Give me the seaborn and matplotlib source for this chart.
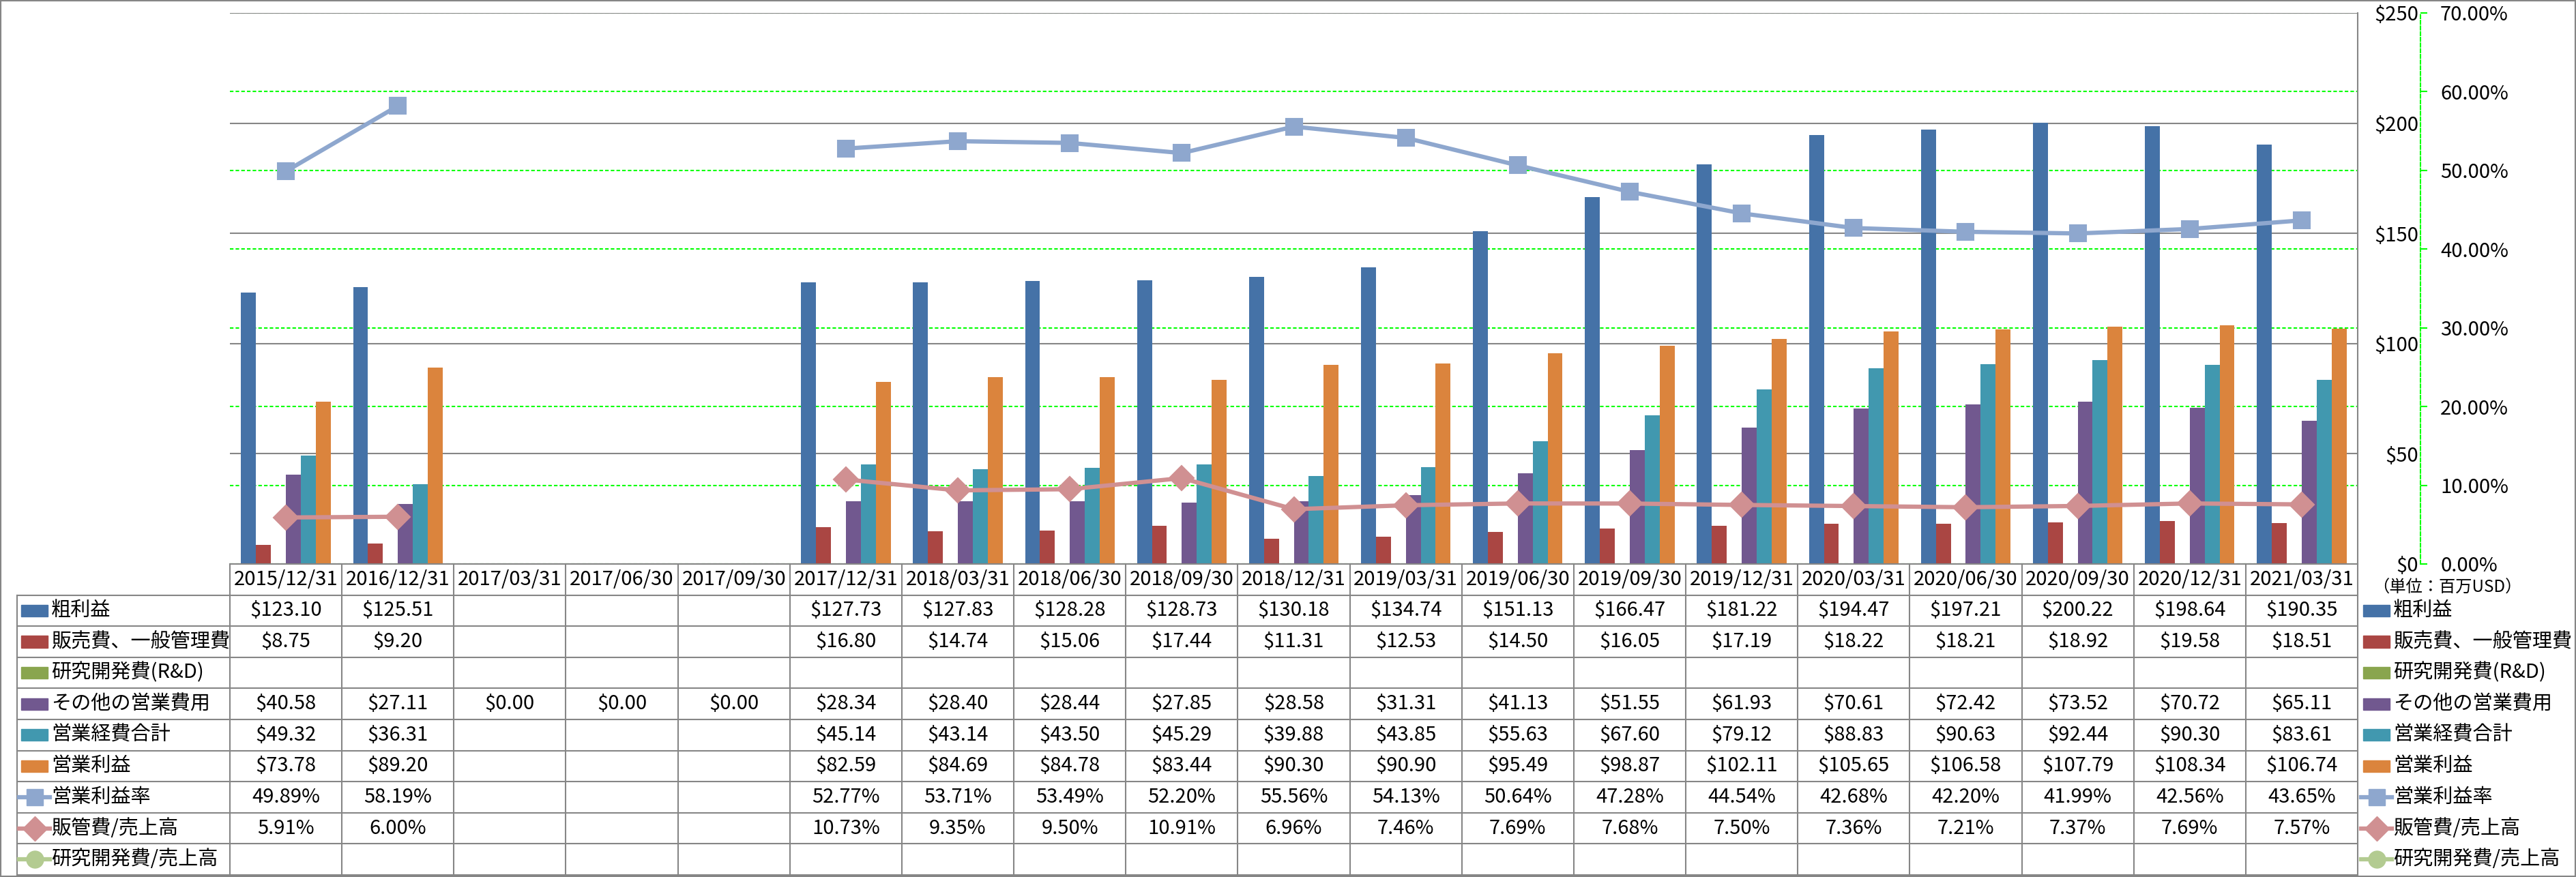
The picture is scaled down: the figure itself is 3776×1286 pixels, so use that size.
import numpy as np
import pandas as pd
import matplotlib
matplotlib.use('Agg')
import matplotlib.pyplot as plt
import matplotlib.transforms as mtransforms
from matplotlib.patches import Rectangle
from matplotlib.ticker import FixedLocator, FuncFormatter
import seaborn as sns

plt.rcParams['font.family'] = ['Noto Sans CJK JP', 'DejaVu Sans']

# ---- data (millions USD / percent) ----
dates = ['2015/12/31', '2016/12/31', '2017/03/31', '2017/06/30', '2017/09/30',
         '2017/12/31', '2018/03/31', '2018/06/30', '2018/09/30', '2018/12/31',
         '2019/03/31', '2019/06/30', '2019/09/30', '2019/12/31', '2020/03/31',
         '2020/06/30', '2020/09/30', '2020/12/31', '2021/03/31']
gross_profit = [123.10, 125.51, None, None, None, 127.73, 127.83, 128.28, 128.73, 130.18,
                134.74, 151.13, 166.47, 181.22, 194.47, 197.21, 200.22, 198.64, 190.35]
sga = [8.75, 9.20, None, None, None, 16.80, 14.74, 15.06, 17.44, 11.31,
       12.53, 14.50, 16.05, 17.19, 18.22, 18.21, 18.92, 19.58, 18.51]
rnd = [None] * 19
other_opex = [40.58, 27.11, 0.00, 0.00, 0.00, 28.34, 28.40, 28.44, 27.85, 28.58,
              31.31, 41.13, 51.55, 61.93, 70.61, 72.42, 73.52, 70.72, 65.11]
total_opex = [49.32, 36.31, None, None, None, 45.14, 43.14, 43.50, 45.29, 39.88,
              43.85, 55.63, 67.60, 79.12, 88.83, 90.63, 92.44, 90.30, 83.61]
op_income = [73.78, 89.20, None, None, None, 82.59, 84.69, 84.78, 83.44, 90.30,
             90.90, 95.49, 98.87, 102.11, 105.65, 106.58, 107.79, 108.34, 106.74]
op_margin = [49.89, 58.19, None, None, None, 52.77, 53.71, 53.49, 52.20, 55.56,
             54.13, 50.64, 47.28, 44.54, 42.68, 42.20, 41.99, 42.56, 43.65]
sga_ratio = [5.91, 6.00, None, None, None, 10.73, 9.35, 9.50, 10.91, 6.96,
             7.46, 7.69, 7.68, 7.50, 7.36, 7.21, 7.37, 7.69, 7.57]
rnd_ratio = [None] * 19

bar_names = ['粗利益', '販売費、一般管理費', '研究開発費(R&D)', 'その他の営業費用', '営業経費合計', '営業利益']
line_names = ['営業利益率', '販管費/売上高', '研究開発費/売上高']
bar_colors = ['#4572A7', '#AA4643', '#89A54E', '#71588F', '#4198AF', '#DB843D']
line_colors = ['#8EA7CE', '#D09092', '#B3CB91']
line_markers = ['s', 'D', 'o']

bar_values = [gross_profit, sga, rnd, other_opex, total_opex, op_income]
line_values = [op_margin, sga_ratio, rnd_ratio]


def to_arr(vals):
    return np.array([np.nan if v is None else v for v in vals], dtype=float)


rows = []
for name, vals in zip(bar_names, bar_values):
    for d, v in zip(dates, to_arr(vals)):
        rows.append({'date': d, 'series': name, 'value': v})
df = pd.DataFrame(rows)

# ---- layout in pixels ----
W, H = 3776, 1286
PL, PR, PT, PB = 337, 3456, 19, 827
TL, TB = 25, 1283
GRAY = '#868686'
GREEN = '#00FF00'
FS = 21

fig = plt.figure(figsize=(W / 100, H / 100), dpi=100)
rect = [PL / W, 1 - PB / H, (PR - PL) / W, (PB - PT) / H]
n = len(dates)

# bottom layer: percent axis + green grid
axg = fig.add_axes(rect, zorder=0)
axg.set_xlim(-0.5, n - 0.5)
axg.set_ylim(0, 0.7)
axg.set_xticks([])
axg.yaxis.set_major_locator(FixedLocator(np.arange(0, 0.71, 0.1)))
axg.yaxis.set_major_formatter(FuncFormatter(lambda v, p: f'{v * 100:.2f}%'))
axg.yaxis.tick_right()
for s in ['top', 'left', 'bottom']:
    axg.spines[s].set_visible(False)
axg.spines['right'].set_position(('axes', (3548 - PL) / (PR - PL)))
axg.spines['right'].set_color(GREEN)
axg.spines['right'].set_linestyle((0, (2.5, 1.5)))
axg.spines['right'].set_linewidth(1.5)
axg.tick_params(axis='y', direction='out', length=7.2, width=1.5, color=GREEN,
                pad=13.7, labelsize=FS)
axg.grid(axis='y', color=GREEN, linestyle=(0, (2.5, 1.5)), linewidth=1.5)

# middle layer: bars
ax = fig.add_axes(rect, zorder=1)
ax.patch.set_visible(False)
sns.barplot(data=df, x='date', y='value', hue='series', order=dates, hue_order=bar_names,
            palette=bar_colors, saturation=1, width=0.8, errorbar=None, linewidth=0,
            legend=False, ax=ax)
ax.set_xlim(-0.5, n - 0.5)
ax.set_ylim(0, 250)
ax.set_xlabel('')
ax.set_ylabel('')
ax.set_xticks([])
ax.yaxis.set_major_locator(FixedLocator(np.arange(0, 251, 50)))
ax.yaxis.set_major_formatter(FuncFormatter(lambda v, p: f'${v:.0f}'))
ax.yaxis.tick_right()
ax.tick_params(axis='y', length=0, pad=64, labelsize=FS)
for lbl in ax.get_yticklabels():
    lbl.set_horizontalalignment('right')
ax.set_axisbelow(True)
ax.grid(axis='y', color=GRAY, linewidth=1.5)
for s in ['top', 'left']:
    ax.spines[s].set_visible(False)
for s in ['right', 'bottom']:
    ax.spines[s].set_color(GRAY)
    ax.spines[s].set_linewidth(1.5)

# top layer: ratio lines
ax2 = fig.add_axes(rect, zorder=2)
ax2.patch.set_visible(False)
ax2.set_xlim(-0.5, n - 0.5)
ax2.set_ylim(0, 0.7)
ax2.axis('off')
x = np.arange(n)
for vals, c, m in zip(line_values, line_colors, line_markers):
    ax2.plot(x, to_arr(vals) / 100, color=c, lw=4.5, marker=m, ms=17 if m == 's' else 18,
             mfc=c, mec=c, mew=1.5, solid_joinstyle='round', clip_on=False)

# ---- data table ----
tab = fig.add_axes([TL / W, 1 - TB / H, (PR - TL) / W, (TB - PB) / H])
cat_w = (PR - PL) / n
xl = -0.5 - (PL - TL) / cat_w
tab.set_xlim(xl, n - 0.5)
tab.set_ylim(10, 0)
tab.set_autoscale_on(False)
tab.axis('off')

for r in range(1, 11):
    tab.plot([xl, n - 0.5], [r, r], color=GRAY, lw=1.5, clip_on=False)
for k in range(n + 1):
    tab.plot([k - 0.5, k - 0.5], [0, 10], color=GRAY, lw=1.5, clip_on=False)
tab.plot([xl, xl], [1, 10], color=GRAY, lw=1.5, clip_on=False)

for i, d in enumerate(dates):
    tab.text(i, 0.5, d, ha='center', va='center', fontsize=FS)

all_names = bar_names + line_names
all_values = bar_values + line_values
for r, (name, vals) in enumerate(zip(all_names, all_values), start=1):
    is_pct = name in line_names
    for i, v in enumerate(vals):
        if v is None:
            continue
        s = f'{v:.2f}%' if is_pct else f'${v:.2f}'
        tab.text(i, r + 0.5, s, ha='center', va='center', fontsize=FS)

trans = mtransforms.blended_transform_factory(fig.transFigure, tab.transData)


def draw_key(x0, r, idx):
    y = r + 0.5
    if idx < len(bar_names):
        tab.add_patch(Rectangle((x0 / W, y - 0.19), 39 / W, 0.38, transform=trans,
                                color=bar_colors[idx], clip_on=False))
    else:
        j = idx - len(bar_names)
        c = line_colors[j]
        tab.plot([(x0 - 3) / W, (x0 + 42) / W], [y, y], transform=trans, color=c, lw=4.5,
                 clip_on=False)
        tab.plot([(x0 + 19.5) / W], [y], transform=trans, color=c, marker=line_markers[j],
                 ms=17 if line_markers[j] == 's' else 18, mec=c, clip_on=False)


for r, name in enumerate(all_names, start=1):
    draw_key(31, r, r - 1)
    tab.text(75 / W, r + 0.5, name, transform=trans, ha='left', va='center', fontsize=FS)
    draw_key(3464, r, r - 1)
    tab.text(3508 / W, r + 0.5, name, transform=trans, ha='left', va='center', fontsize=FS)

fig.text(3478 / W, 1 - 862 / H, '（単位：百万USD）', ha='left', va='center', fontsize=17.5)

# outer frame
fig.patches.append(Rectangle((0, 0), 1, 1, transform=fig.transFigure, fill=False,
                             edgecolor=GRAY, lw=3))

fig.savefig('out.png', dpi=100)
